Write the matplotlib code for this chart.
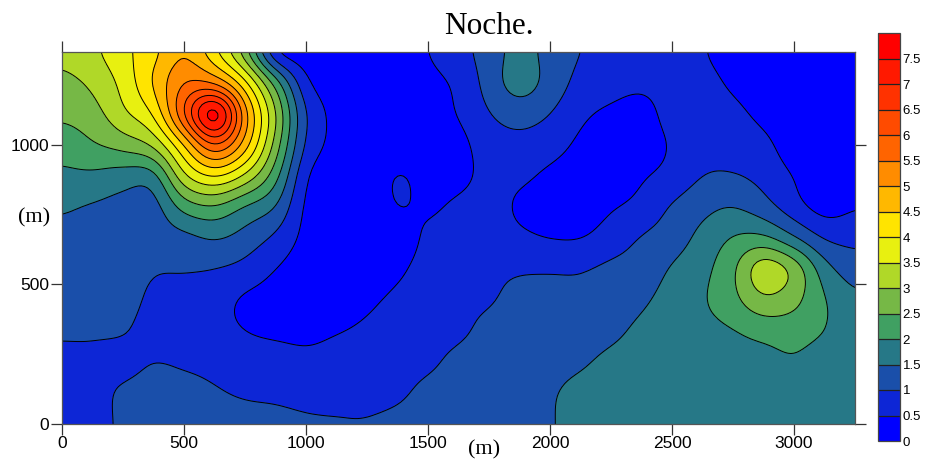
import numpy as np
import matplotlib
matplotlib.use("Agg")
import matplotlib.pyplot as plt

x_m = [0, 125, 250, 375, 500, 625, 750, 875, 1000, 1125, 1250, 1375, 1500, 1625,
       1750, 1875, 2000, 2125, 2250, 2375, 2500, 2625, 2750, 2875, 3000, 3125, 3250]
# top row first
y_m = [1333, 1222, 1111, 1000, 889, 778, 667, 556, 444, 333, 222, 111, 0]

# one list per x_m entry, values read top to bottom
z_by_x = [
    [3.15, 2.85, 2.6, 2.2, 1.9, 1.55, 1.4, 1.3, 1.2, 1.05, .9, .8, .75],
    [3.4, 3.1, 2.8, 2.45, 1.9, 1.45, 1.35, 1.3, 1.2, 1.05, .9, .8, .8],
    [3.85, 3.65, 3.4, 2.7, 1.75, 1.35, 1.35, 1.3, 1.25, 1.05, .8, 1.1, 1.1],
    [4.35, 4.55, 4.05, 3.1, 1.8, 1.3, 1.25, 1.05, .85, .75, 1.0, 1.25, 1.3],
    [4.95, 5.5, 6.0, 4.5, 3.4, 2.2, 1.35, 1.05, .75, .7, .92, 1.2, 1.3],
    [4.1, 5.4, 7.95, 6.0, 4.05, 2.45, 1.55, 1.0, .7, .65, .85, 1.05, 1.2],
    [2.7, 4.15, 5.2, 4.75, 3.4, 1.95, 1.3, .85, .42, .5, .75, .95, 1.15],
    [.5, 2.3, 3.05, 2.8, 2.2, 1.5, .9, .5, .3, .4, .75, .93, 1.1],
    [.2, .6, 1.0, .9, .55, .4, .35, .25, .2, .36, .65, .88, 1.05],
    [.1, .25, .35, .35, .2, .15, .1, .1, .15, .47, .7, .85, 1.04],
    [.1, .1, .1, .1, .1, .1, .1, .2, .4, .6, .75, .83, 1.04],
    [.2, .15, .1, .1, .55, .52, .2, .4, .6, .7, .8, .9, 1.15],
    [.5, .35, .3, .25, .3, .42, .6, .7, .75, .8, .9, 1.15, 1.3],
    [.85, .6, .52, .35, .35, .6, .7, .8, .9, .9, 1.15, 1.25, 1.35],
    [1.2, 1.2, .98, .75, .65, .7, .75, .9, .95, 1.15, 1.3, 1.4, 1.45],
    [1.7, 1.75, 1.2, .85, .6, .42, .6, .95, 1.15, 1.3, 1.4, 1.45, 1.45],
    [1.3, 1.3, 1.0, .7, .4, .3, .48, .97, 1.1, 1.25, 1.4, 1.47, 1.47],
    [1.0, .85, .6, .4, .25, .2, .48, .97, 1.1, 1.3, 1.45, 1.6, 1.65],
    [.85, .7, .4, .2, .2, .45, .75, 1.1, 1.25, 1.4, 1.6, 1.7, 1.7],
    [.75, .6, .3, .25, .45, .65, 1.03, 1.2, 1.42, 1.6, 1.7, 1.75, 1.75],
    [.85, .7, .7, .55, .65, 1.05, 1.25, 1.55, 1.7, 1.75, 1.78, 1.78, 1.78],
    [.55, .7, .75, .8, 1.0, 1.35, 1.65, 1.85, 1.95, 1.85, 1.8, 1.8, 1.8],
    [.2, .4, .65, .8, 1.03, 1.5, 2.03, 2.4, 2.35, 1.97, 1.85, 1.8, 1.8],
    [.1, .15, .35, .65, .85, 1.2, 2.1, 3.35, 2.9, 2.15, 1.85, 1.78, 1.75],
    [.1, .1, .1, .2, .48, .7, 1.55, 2.85, 2.65, 2.2, 1.95, 1.75, 1.72],
    [.1, .1, .1, .1, .1, .3, .95, 1.7, 2.03, 2.0, 1.75, 1.72, 1.7],
    [.15, .15, .15, .2, .3, .47, .85, 1.25, 1.6, 1.7, 1.75, 1.75, 1.75],
]

levels = np.arange(0, 8.5, 0.5)
level_labels = ["0", "0.5", "1", "1.5", "2", "2.5", "3", "3.5", "4", "4.5", "5",
                "5.5", "6", "6.5", "7", "7.5", ""]
band_colors = ["#0000ff", "#0d26d6", "#1a4faa", "#267887", "#40a062", "#76b846",
               "#b0d828", "#e8f010", "#ffe400", "#ffb800", "#ff8c00", "#ff6400",
               "#ff4b00", "#ff3200", "#ff1900", "#ff0000"]
x_ticks = [0, 500, 1000, 1500, 2000, 2500, 3000]
y_ticks = [0, 500, 1000]

W, H = 927, 462


def smooth_axis(z, pos, n=10):
    # catmull-rom along axis 0, so the contour lines come out round
    k = len(pos) - 1
    t = np.linspace(0, k, k * n + 1)
    i = np.clip(t.astype(int), 0, k - 1)
    u = (t - i)[:, None]
    p1, p2 = z[i], z[i + 1]
    p0 = z[np.clip(i - 1, 0, k)]
    p3 = z[np.clip(i + 2, 0, k)]
    out = 0.5 * (2 * p1 + (p2 - p0) * u + (2 * p0 - 5 * p1 + 4 * p2 - p3) * u ** 2
                 + (3 * p1 - p0 - 3 * p2 + p3) * u ** 3)
    return np.interp(t, np.arange(k + 1), pos), out


def blur_axis0(z, sigma=2.2):
    r = int(3 * sigma)
    w = np.exp(-0.5 * (np.arange(-r, r + 1) / sigma) ** 2)
    w /= w.sum()
    padded = np.pad(z, ((r, r), (0, 0)), mode="edge")
    return np.apply_along_axis(lambda c: np.convolve(c, w, mode="valid"), 0, padded)


z = np.array(z_by_x).T[::-1]
x_dense, z_fine = smooth_axis(z.T, x_m)
z_fine = blur_axis0(z_fine)
y_dense, z_fine = smooth_axis(z_fine.T, y_m[::-1])
z_fine = blur_axis0(z_fine)
z_fine = np.clip(z_fine, 0.01, 7.99)

fig = plt.figure(figsize=(W / 100, H / 100), dpi=100)
ax = fig.add_axes([62 / W, 1 - 424 / H, (855 - 62) / W, (424 - 52) / H])
cs = ax.contourf(x_dense, y_dense, z_fine, levels=levels, colors=band_colors)
ax.contour(x_dense, y_dense, z_fine, levels=levels[1:-1], colors="black", linewidths=0.7)

ax.set_xlim(0, 3250)
ax.set_ylim(0, 1333)
ax.set_xticks(x_ticks)
ax.set_yticks(y_ticks)
ax.tick_params(top=True, right=True, direction="out", length=8, width=0.9, color="#333333",
               labelsize=12.5, pad=1)
for label in ax.get_xticklabels() + ax.get_yticklabels():
    label.set_family("Liberation Sans")
for spine in ax.spines.values():
    spine.set_color("#555555")
    spine.set_linewidth(0.9)

fig.text(489 / W, 1 - 27 / H, "Noche.", family="Liberation Serif", fontsize=22.5,
         ha="center", va="center")
fig.text(34 / W, 1 - 218 / H, "(m)", family="Liberation Serif", fontsize=16,
         ha="center", va="center")
fig.text(484 / W, 1 - 450 / H, "(m)", family="Liberation Serif", fontsize=16,
         ha="center", va="center")

cax = fig.add_axes([878 / W, 1 - 441 / H, 22 / W, (441 - 33) / H])
cb = fig.colorbar(cs, cax=cax, drawedges=True)
cb.set_ticks(levels, labels=level_labels)
cb.ax.tick_params(length=0, labelsize=9.5, pad=2)
for label in cb.ax.get_yticklabels():
    label.set_family("Liberation Sans")
cb.outline.set_edgecolor("#444444")
cb.outline.set_linewidth(0.9)
cb.dividers.set_color("#222222")
cb.dividers.set_linewidth(0.9)

fig.savefig("out.png", dpi=100)
